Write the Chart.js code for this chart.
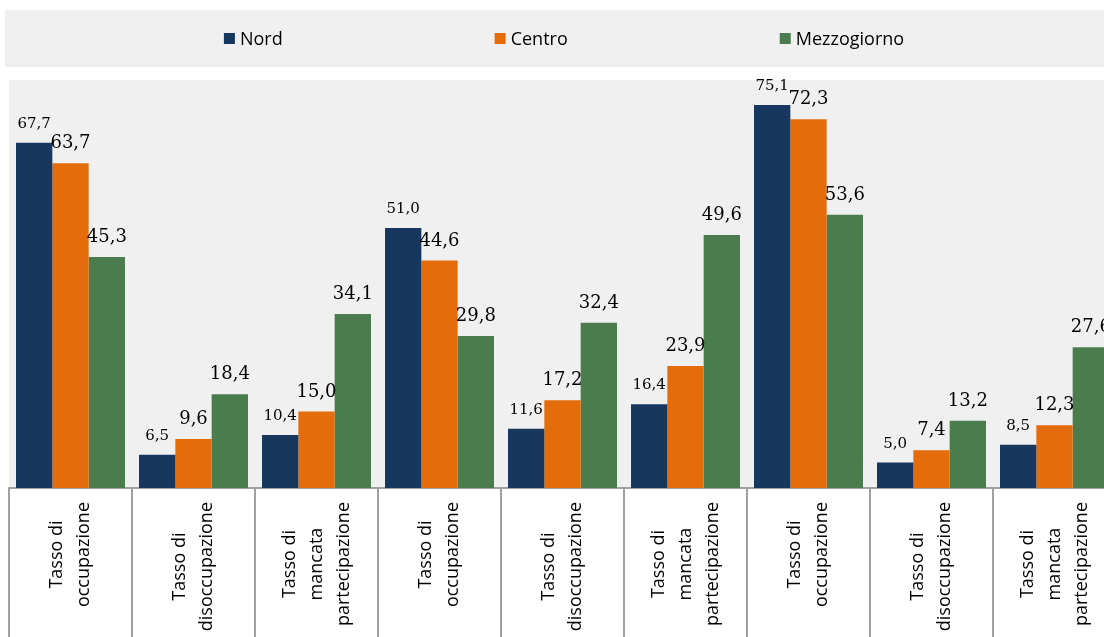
<!DOCTYPE html>
<html>
<head>
<meta charset="utf-8">
<script src="https://cdn.jsdelivr.net/npm/chart.js@4"></script>
<style>
  html, body { margin: 0; padding: 0; background: #fff; overflow: hidden; }
  #wrap { width: 1125px; height: 637px; }
</style>
</head>
<body>
<div id="wrap"><canvas id="myChart" width="1125" height="637"></canvas></div>
<script>
// Chart data
var categories = [
  ["Tasso di", "occupazione"],
  ["Tasso di", "disoccupazione"],
  ["Tasso di", "mancata", "partecipazione"],
  ["Tasso di", "occupazione"],
  ["Tasso di", "disoccupazione"],
  ["Tasso di", "mancata", "partecipazione"],
  ["Tasso di", "occupazione"],
  ["Tasso di", "disoccupazione"],
  ["Tasso di", "mancata", "partecipazione"]
];
var seriesNames = ["Nord", "Centro", "Mezzogiorno"];
var nordValues = [67.7, 6.5, 10.4, 51.0, 11.6, 16.4, 75.1, 5.0, 8.5];
var centroValues = [63.7, 9.6, 15.0, 44.6, 17.2, 23.9, 72.3, 7.4, 12.3];
var mezzogiornoValues = [45.3, 18.4, 34.1, 29.8, 32.4, 49.6, 53.6, 13.2, 27.6];
var seriesColors = ["#17375E", "#E46C0A", "#4A7C4E"];

var panelGrey = "#F0F0F0";
var lineGrey = "#A0A0A0";

function fmt(v) {
  return v.toFixed(1).replace(".", ",");
}

// grey backgrounds + legend band
var backgrounds = {
  id: "backgrounds",
  beforeDraw: function (chart) {
    var ctx = chart.ctx;
    var a = chart.chartArea;
    ctx.save();
    ctx.fillStyle = panelGrey;
    ctx.fillRect(5, 10, chart.width - 5, 57);
    ctx.fillRect(a.left, a.top, a.right - a.left, a.bottom - a.top);

    // legend items
    ctx.font = "18px 'Open Sans'";
    ctx.textBaseline = "middle";
    ctx.textAlign = "left";
    var box = 11, gapText = 5, gapItem = 212;
    var widths = chart.data.datasets.map(function (ds) {
      return box + gapText + ctx.measureText(ds.label).width;
    });
    var total = widths.reduce(function (s, w) { return s + w; }, 0) + gapItem * (widths.length - 1);
    var x = 564 - total / 2;
    var cy = 38.5;
    chart.data.datasets.forEach(function (ds, i) {
      ctx.fillStyle = ds.backgroundColor;
      ctx.fillRect(x, cy - box / 2, box, box);
      ctx.fillStyle = "#000";
      ctx.fillText(ds.label, x + box + gapText, cy + 1);
      x += widths[i] + gapItem;
    });
    ctx.restore();
  }
};

// value labels above bars
var valueLabels = {
  id: "valueLabels",
  afterDatasetsDraw: function (chart) {
    var ctx = chart.ctx;
    ctx.save();
    ctx.fillStyle = "#000";
    ctx.textAlign = "center";
    ctx.textBaseline = "alphabetic";
    chart.data.datasets.forEach(function (ds, di) {
      var meta = chart.getDatasetMeta(di);
      ctx.font = (di === 0 ? "15px" : "18px") + " 'DejaVu Serif'";
      meta.data.forEach(function (bar, i) {
        ctx.fillText(fmt(ds.data[i]), bar.x, bar.y - 15);
      });
    });
    ctx.restore();
  }
};

// rotated category labels
var rotatedLabels = {
  id: "rotatedLabels",
  afterDraw: function (chart) {
    var ctx = chart.ctx;
    var xs = chart.scales.x;
    var lineH = 27;
    ctx.save();
    ctx.font = "18px 'Open Sans'";
    ctx.fillStyle = "#000";
    ctx.textAlign = "center";
    ctx.textBaseline = "middle";
    chart.data.labels.forEach(function (lines, i) {
      var px = xs.getPixelForTick(i);
      var maxW = Math.max.apply(null, lines.map(function (l) { return ctx.measureText(l).width; }));
      var cy = xs.top + 14 + maxW / 2;
      ctx.save();
      ctx.translate(px, cy);
      ctx.rotate(-Math.PI / 2);
      lines.forEach(function (l, k) {
        var off = (k - (lines.length - 1) / 2) * lineH;
        ctx.fillText(l, 0, off);
      });
      ctx.restore();
    });
    ctx.restore();
  }
};

new Chart("myChart", {
  type: "bar",
  data: {
    labels: categories,
    datasets: [
      { label: seriesNames[0], data: nordValues, backgroundColor: seriesColors[0] },
      { label: seriesNames[1], data: centroValues, backgroundColor: seriesColors[1] },
      { label: seriesNames[2], data: mezzogiornoValues, backgroundColor: seriesColors[2] }
    ]
  },
  options: {
    responsive: false,
    animation: false,
    devicePixelRatio: 1,
    layout: { padding: { top: 80, left: 9, right: 9, bottom: 0 } },
    datasets: {
      bar: { categoryPercentage: 0.886, barPercentage: 1, borderWidth: 0 }
    },
    plugins: {
      legend: { display: false },
      tooltip: { enabled: false }
    },
    scales: {
      x: {
        offset: true,
        grid: {
          offset: true,
          drawOnChartArea: false,
          drawTicks: true,
          tickLength: 149,
          color: lineGrey,
          lineWidth: 2
        },
        border: { color: lineGrey, width: 2 },
        ticks: { display: false }
      },
      y: {
        display: false,
        min: 0,
        max: 80
      }
    }
  },
  plugins: [backgrounds, valueLabels, rotatedLabels]
});
</script>
</body>
</html>
